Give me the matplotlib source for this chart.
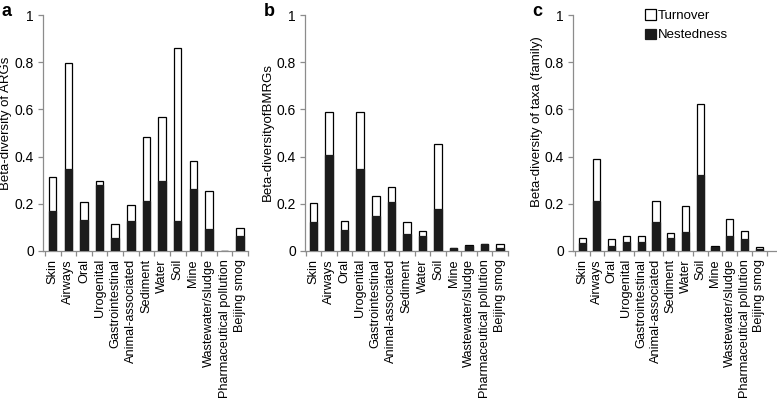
import matplotlib
matplotlib.use("Agg")
import matplotlib.pyplot as plt
from matplotlib.patches import Patch

plt.rcParams['font.family'] = ['Liberation Sans', 'DejaVu Sans']

categories = ["Skin", "Airways", "Oral", "Urogenital", "Gastrointestinal",
              "Animal-associated", "Sediment", "Water", "Soil", "Mine",
              "Wastewater/sludge", "Pharmaceutical pollution", "Beijing smog"]

# total beta-diversity (top of bar) and nestedness component
args_total = [0.313, 0.796, 0.206, 0.296, 0.115, 0.196, 0.481, 0.570, 0.862, 0.383, 0.254, 0.0, 0.098]
args_nested = [0.169, 0.345, 0.130, 0.277, 0.055, 0.128, 0.211, 0.298, 0.128, 0.262, 0.094, 0.0, 0.062]

bmrgs_total = [0.203, 0.589, 0.126, 0.590, 0.233, 0.270, 0.123, 0.082, 0.452, 0.013, 0.024, 0.028, 0.030]
bmrgs_nested = [0.121, 0.406, 0.089, 0.348, 0.148, 0.207, 0.071, 0.062, 0.177, 0.012, 0.018, 0.028, 0.011]

taxa_total = [0.054, 0.391, 0.048, 0.062, 0.062, 0.210, 0.074, 0.190, 0.623, 0.021, 0.135, 0.085, 0.017]
taxa_nested = [0.034, 0.213, 0.020, 0.037, 0.037, 0.122, 0.054, 0.079, 0.323, 0.017, 0.064, 0.051, 0.009]

ylabels = ["Beta-diversity of ARGs", "Beta-diversityofBMRGs", "Beta-diversity of taxa (family)"]
letters = ["a", "b", "c"]
yticks = [0, 0.2, 0.4, 0.6, 0.8, 1.0]
ytick_labels = ["0", "0.2", "0.4", "0.6", "0.8", "1"]

W, H = 777, 403
fig = plt.figure(figsize=(W / 100, H / 100), dpi=100)

# axes boxes in pixels: left, right, xlim, ylabel right edge (px), ylabel centre y (axes frac)
boxes = [(43, 248, (-0.62, 12.5), 12.5, 0.54),
         (305, 508, (-0.55, 12.5), 274, 0.505),
         (573, 777, (-0.62, 13.2), 543, 0.549)]
y0px, y1px = 250.7, 15.3
data = [(args_total, args_nested), (bmrgs_total, bmrgs_nested), (taxa_total, taxa_nested)]
spine_col = "#8c8c8c"
dark = "#1c1c1c"

for i, ((l, r, xl, lab_px, lab_y), (tot, nes)) in enumerate(zip(boxes, data)):
    ax = fig.add_axes([l / W, 1 - y0px / H, (r - l) / W, (y0px - y1px) / H])
    x = list(range(len(categories)))
    ax.bar(x, tot, width=0.48, color="white", edgecolor="black", linewidth=0.9, zorder=2)
    ax.bar(x, nes, width=0.48, color=dark, edgecolor=dark, linewidth=0.9, zorder=3)
    ax.set_xlim(*xl)
    ax.set_ylim(0, 1)
    ax.set_yticks(yticks)
    ax.set_yticklabels(ytick_labels, fontsize=10)
    ax.set_xticks(x)
    ax.set_xticklabels(categories, rotation=90, fontsize=9.2)
    ax.tick_params(axis="x", length=0, pad=6)
    ax.set_xticks([k - 0.5 for k in range(len(categories) + 1)], minor=True)
    ax.tick_params(axis="x", which="minor", length=3.5, color=spine_col, width=0.9)
    ax.tick_params(axis="y", length=3.5, color=spine_col, width=0.9, pad=3)
    for s in ["top", "right"]:
        ax.spines[s].set_visible(False)
    for s in ["left", "bottom"]:
        ax.spines[s].set_color(spine_col)
        ax.spines[s].set_linewidth(0.9)
    ax.set_ylabel(ylabels[i], fontsize=9.5)
    ax.yaxis.set_label_coords((lab_px - l) / (r - l), lab_y)
    fig.text((l - 41) / W, 1 - 3 / H, letters[i], fontsize=13, fontweight="bold",
             va="top", ha="left")
    if i == 2:
        handles = [Patch(facecolor="white", edgecolor="black", linewidth=0.9),
                   Patch(facecolor=dark, edgecolor=dark, linewidth=0.9)]
        ax.legend(handles, ["Turnover", "Nestedness"], loc="upper left",
                  bbox_to_anchor=((645 - l) / (r - l), 1.025), frameon=False,
                  fontsize=9.5, handlelength=0.8, handleheight=0.8,
                  handletextpad=0.2, labelspacing=0.5, borderpad=0, borderaxespad=0)

fig.savefig("out.png", dpi=100)
